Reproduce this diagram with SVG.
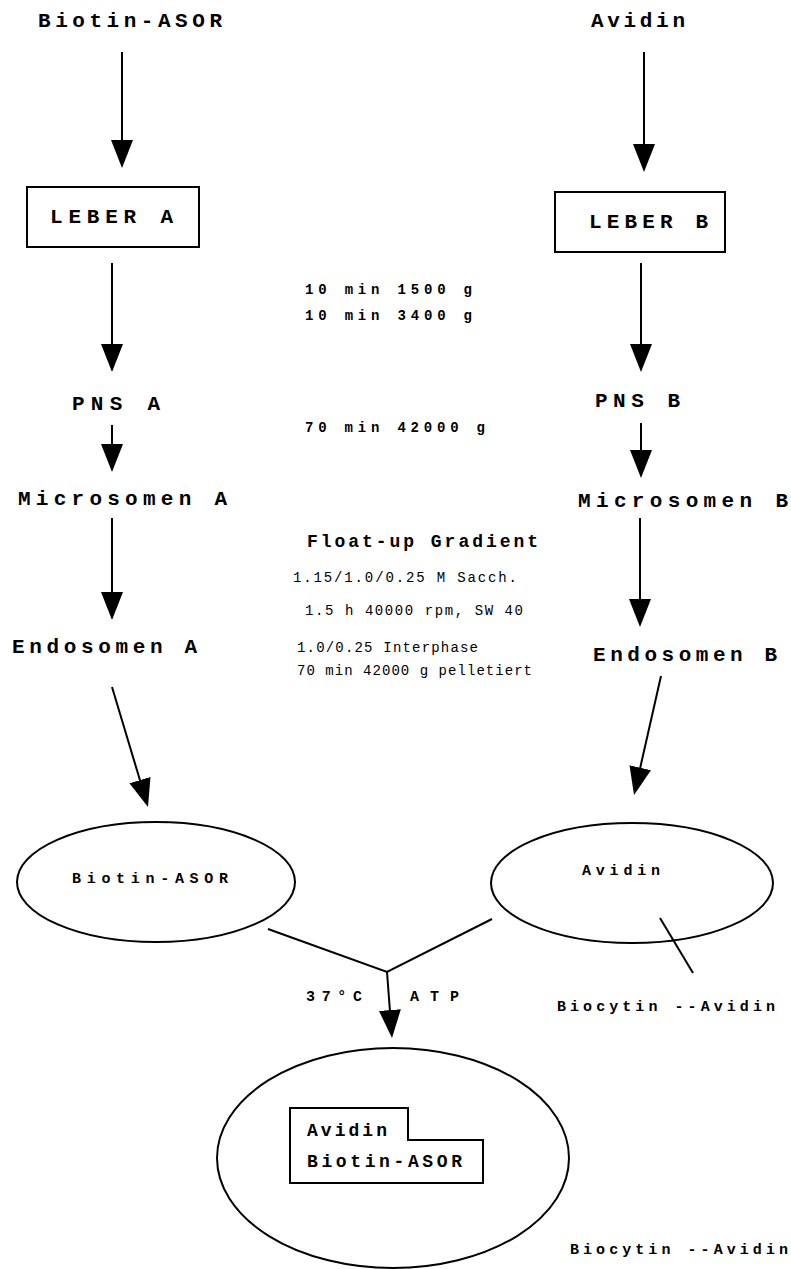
<svg xmlns="http://www.w3.org/2000/svg" width="791" height="1269" viewBox="0 0 791 1269">
  <style>
    .lbl { font-family: "Liberation Mono", "DejaVu Sans Mono", monospace; font-weight: bold; fill: #000; }
    .big { font-size: 21px; }
    .mid { font-size: 18px; }
    .sm { font-size: 15px; }
    .xs { font-size: 14px; }
    .note { font-family: "Liberation Mono", "DejaVu Sans Mono", monospace; font-size: 14px; fill: #000; }
    .shape { fill: none; stroke: #000; stroke-width: 2; }
    .conn { fill: none; stroke: #000; stroke-width: 2; }
  </style>
  <defs>
    <marker id="head" markerUnits="userSpaceOnUse" markerWidth="28" markerHeight="22" refX="20" refY="11" orient="auto">
      <path d="M0,0 L28,11 L0,22 Z" fill="#000"/>
    </marker>
  </defs>
  <rect width="791" height="1269" fill="#fff"/>

  <!-- left column -->
  <g id="biotin-asor-top"><text class="lbl big" x="38" y="27" textLength="184" lengthAdjust="spacing">Biotin-ASOR</text></g>
  <g id="leber-a">
    <rect class="shape" x="27" y="187" width="172" height="60"/>
    <text class="lbl big" x="50" y="223" textLength="123" lengthAdjust="spacing">LEBER A</text>
  </g>
  <g id="pns-a"><text class="lbl big" x="72" y="410" textLength="88" lengthAdjust="spacing">PNS A</text></g>
  <g id="microsomen-a"><text class="lbl big" x="18" y="505" textLength="209" lengthAdjust="spacing">Microsomen A</text></g>
  <g id="endosomen-a"><text class="lbl big" x="12" y="653" textLength="185" lengthAdjust="spacing">Endosomen A</text></g>
  <g id="vesicle-a">
    <ellipse class="shape" cx="156" cy="882" rx="139" ry="60"/>
    <text class="lbl sm" x="72" y="883" textLength="156" lengthAdjust="spacing">Biotin-ASOR</text>
  </g>

  <!-- right column -->
  <g id="avidin-top"><text class="lbl big" x="591" y="27" textLength="94" lengthAdjust="spacing">Avidin</text></g>
  <g id="leber-b">
    <rect class="shape" x="555" y="192" width="170" height="60"/>
    <text class="lbl big" x="589" y="228" textLength="119" lengthAdjust="spacing">LEBER B</text>
  </g>
  <g id="pns-b"><text class="lbl big" x="595" y="407" textLength="85" lengthAdjust="spacing">PNS B</text></g>
  <g id="microsomen-b"><text class="lbl big" x="578" y="507" textLength="210" lengthAdjust="spacing">Microsomen B</text></g>
  <g id="endosomen-b"><text class="lbl big" x="593" y="661" textLength="184" lengthAdjust="spacing">Endosomen B</text></g>
  <g id="vesicle-b">
    <ellipse class="shape" cx="632" cy="883" rx="141" ry="60"/>
    <text class="lbl sm" x="582" y="875" textLength="78" lengthAdjust="spacing">Avidin</text>
  </g>
  <g id="biocytin-1"><text class="lbl sm" x="557" y="1011" textLength="218" lengthAdjust="spacing">Biocytin --Avidin</text></g>

  <!-- centrifugation steps -->
  <g id="steps">
    <text class="lbl xs" x="305" y="294" textLength="167" lengthAdjust="spacing">10 min 1500 g</text>
    <text class="lbl xs" x="305" y="320" textLength="167" lengthAdjust="spacing">10 min 3400 g</text>
    <text class="lbl xs" x="305" y="432" textLength="180" lengthAdjust="spacing">70 min 42000 g</text>
    <text class="lbl mid" x="307" y="547" textLength="231" lengthAdjust="spacing">Float-up Gradient</text>
    <text class="note" x="293" y="582" textLength="224" lengthAdjust="spacing">1.15/1.0/0.25 M Sacch.</text>
    <text class="note" x="305" y="615" textLength="218" lengthAdjust="spacing">1.5 h 40000 rpm, SW 40</text>
    <text class="note" x="297" y="652" textLength="181" lengthAdjust="spacing">1.0/0.25 Interphase</text>
    <text class="note" x="297" y="675" textLength="235" lengthAdjust="spacing">70 min 42000 g pelletiert</text>
  </g>

  <!-- fusion -->
  <g id="fusion-labels">
    <text class="lbl sm" x="306" y="1001" textLength="56" lengthAdjust="spacing">37°C</text>
    <text class="lbl sm" x="410" y="1001" textLength="49" lengthAdjust="spacing">ATP</text>
  </g>
  <g id="fused-vesicle">
    <ellipse class="shape" cx="393" cy="1158" rx="176" ry="110"/>
    <path class="shape" d="M290,1108 H408 V1140 H483 V1183 H290 Z"/>
    <text class="lbl mid" x="307" y="1136" textLength="80" lengthAdjust="spacing">Avidin</text>
    <text class="lbl mid" x="307" y="1167" textLength="155" lengthAdjust="spacing">Biotin-ASOR</text>
  </g>
  <g id="biocytin-2"><text class="lbl sm" x="570" y="1254" textLength="218" lengthAdjust="spacing">Biocytin --Avidin</text></g>

  <!-- connectors -->
  <g id="connectors">
    <line class="conn" x1="122" y1="52" x2="122" y2="160" marker-end="url(#head)"/>
    <line class="conn" x1="644" y1="52" x2="644" y2="164" marker-end="url(#head)"/>
    <line class="conn" x1="112" y1="263" x2="112" y2="364" marker-end="url(#head)"/>
    <line class="conn" x1="641" y1="263" x2="641" y2="364" marker-end="url(#head)"/>
    <line class="conn" x1="112" y1="425" x2="112" y2="464" marker-end="url(#head)"/>
    <line class="conn" x1="641" y1="423" x2="641" y2="470" marker-end="url(#head)"/>
    <line class="conn" x1="112" y1="518" x2="112" y2="612" marker-end="url(#head)"/>
    <line class="conn" x1="640" y1="518" x2="640" y2="619" marker-end="url(#head)"/>
    <line class="conn" x1="112" y1="687" x2="145.7" y2="799.3" marker-end="url(#head)"/>
    <line class="conn" x1="661" y1="676" x2="635.8" y2="787.2" marker-end="url(#head)"/>
    <polyline class="conn" points="268,929 387,972 492,919"/>
    <line class="conn" x1="387" y1="972" x2="391.4" y2="1030" marker-end="url(#head)"/>
    <line class="conn" x1="660" y1="918" x2="693" y2="973"/>
  </g>
</svg>
